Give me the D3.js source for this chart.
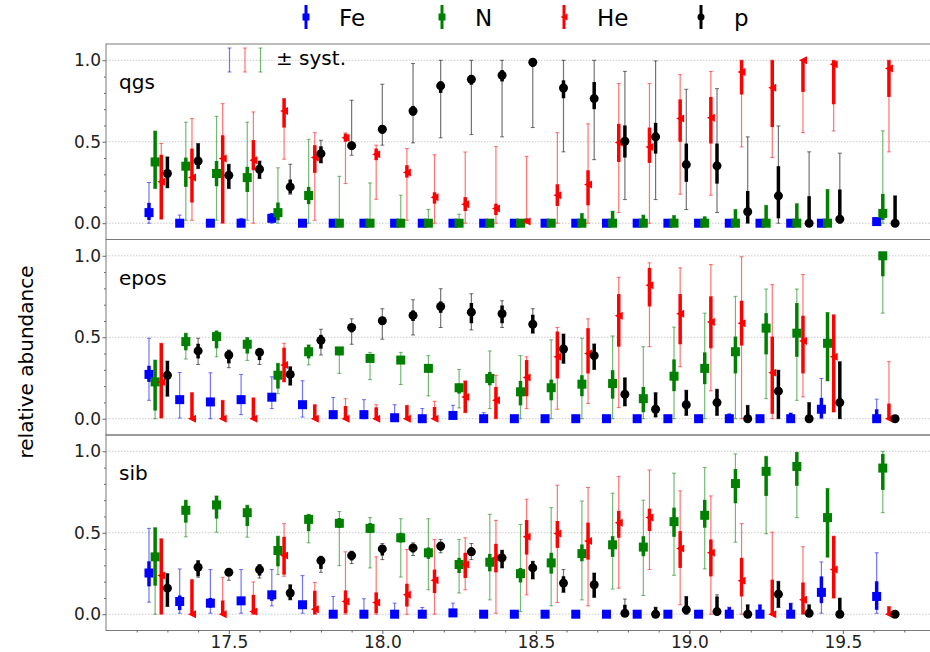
<!DOCTYPE html>
<html>
<head>
<meta charset="utf-8">
<script src="https://cdn.jsdelivr.net/npm/d3@7"></script>
<style>
  body { margin: 0; background: #fff; }
  text { font-family: "DejaVu Sans", sans-serif; }
</style>
</head>
<body>
<div id="chart"></div>
<script>
// energy bins (log10 E/eV), position of the Fe point in each bin
const lgE = [17.24, 17.34, 17.44, 17.54, 17.64, 17.74, 17.84, 17.94, 18.04, 18.13, 18.23, 18.33,
             18.43, 18.53, 18.63, 18.73, 18.83, 18.93, 19.03, 19.13, 19.23, 19.33, 19.43, 19.61];

const species = ["Fe", "N", "He", "p"];
const models = ["qgs", "epos", "sib"];

// each row: [value, stat low, stat high, syst low, syst high]
const qgsFe = [
  [0.065, 0.02, 0.125, 0, 0.25], [0, 0, 0.02, 0, 0.05], [0, 0, 0, 0, 0.01], [0, 0, 0.01, 0, 0.03],
  [0.03, 0.01, 0.06, 0, 0.06], [0, 0, 0, 0, 0], [0, 0, 0, 0, 0], [0, 0, 0, 0, 0],
  [0, 0, 0, 0, 0], [0, 0, 0, 0, 0], [0, 0, 0, 0, 0], [0, 0, 0, 0, 0],
  [0, 0, 0, 0, 0], [0, 0, 0, 0, 0], [0, 0, 0, 0, 0], [0, 0, 0, 0, 0],
  [0, 0, 0, 0, 0], [0, 0, 0, 0, 0], [0, 0, 0, 0, 0], [0, 0, 0, 0, 0],
  [0, 0, 0, 0, 0], [0, 0, 0, 0, 0], [0, 0, 0, 0, 0], [0.01, 0, 0.03, 0, 0.03]
];
const qgsN = [
  [0.376, 0.213, 0.566, 0.213, 0.566], [0.35, 0.223, 0.403, 0.018, 0.62], [0.305, 0.227, 0.382, 0.018, 0.656],
  [0.28, 0.192, 0.346, 0.018, 0.62], [0.065, 0.018, 0.127, 0, 0.34], [0.17, 0.117, 0.223, 0, 0.515],
  [0, 0, 0, 0, 0.288], [0, 0, 0, 0, 0.247], [0, 0, 0, 0, 0.172], [0, 0, 0, 0, 0.084],
  [0, 0, 0, 0, 0.055], [0, 0, 0, 0, 0], [0, 0, 0, 0, 0], [0, 0, 0, 0, 0],
  [0, 0, 0.06, 0, 0.06], [0, 0, 0.074, 0, 0.074], [0, 0, 0.05, 0, 0.05], [0, 0, 0.047, 0, 0.047],
  [0, 0, 0.04, 0, 0.04], [0, 0, 0.084, 0, 0.084], [0, 0, 0.11, 0, 0.11], [0, 0, 0.12, 0, 0.12],
  [0, 0, 0.207, 0, 0.207], [0.06, 0.02, 0.18, 0, 0.567]
];
const qgsHe = [
  [0.254, 0.025, 0.42, 0.025, 0.489], [0.28, 0.127, 0.458, 0.018, 0.642], [0.397, 0, 0.54, 0, 0.734],
  [0.387, 0.325, 0.51, 0, 0.683], [0.689, 0.587, 0.765, 0.393, 0.765], [0.403, 0.309, 0.479, 0.018, 0.556],
  [0.524, 0.5, 0.55, 0.243, 0.554], [0.423, 0.387, 0.458, 0.147, 0.479], [0.311, 0.28, 0.356, 0.018, 0.458],
  [0.16, 0.12, 0.19, 0, 0.42], [0.117, 0.075, 0.16, 0, 0.437], [0.09, 0.05, 0.12, 0, 0.47],
  [0.01, 0, 0.03, 0, 0.41], [0.172, 0.106, 0.239, 0, 0.556], [0.237, 0.11, 0.325, 0, 0.61],
  [0.495, 0.376, 0.61, 0.065, 0.857], [0.468, 0.37, 0.587, 0, 0.857], [0.642, 0.5, 0.76, 0.178, 0.912],
  [0.648, 0.489, 0.775, 0.172, 0.932], [0.928, 0.79, 1.0, 0.468, 1.0], [0.832, 0.59, 1.0, 0.403, 1.0],
  [1.0, 0.806, 1.0, 0.556, 1.0], [0.975, 0.73, 1.0, 0.566, 1.0], [0.949, 0.775, 1.0, 0.438, 1.0]
];
const qgsP = [
  [0.305, 0.217, 0.407, 0.217, 0.407], [0.382, 0.335, 0.489, 0.335, 0.489], [0.294, 0.213, 0.362, 0.213, 0.362],
  [0.331, 0.274, 0.382, 0.274, 0.382], [0.223, 0.182, 0.268, 0.178, 0.362], [0.427, 0.37, 0.472, 0.37, 0.509],
  [0.476, 0.45, 0.5, 0.417, 0.755], [0.577, 0.55, 0.6, 0.479, 0.853], [0.689, 0.66, 0.72, 0.493, 0.98],
  [0.843, 0.8, 0.87, 0.524, 1.0], [0.883, 0.85, 0.91, 0.544, 1.0], [0.908, 0.87, 0.94, 0.53, 1.0],
  [0.988, 0.96, 1.0, 0.587, 1.0], [0.83, 0.767, 0.877, 0.438, 1.0], [0.765, 0.7, 0.867, 0.39, 1.0],
  [0.503, 0.403, 0.6, 0.145, 0.932], [0.53, 0.427, 0.616, 0.145, 0.996], [0.36, 0.254, 0.489, 0.084, 0.822],
  [0.352, 0.243, 0.489, 0.065, 0.826], [0.07, 0, 0.198, 0, 0.53], [0.168, 0.03, 0.35, 0, 0.597],
  [0, 0, 0.166, 0, 0.438], [0.025, 0, 0.207, 0, 0.43], [0, 0, 0.168, 0, 0.168]
];

const eposFe = [
  [0.272, 0.226, 0.325, 0.113, 0.494], [0.117, 0.1, 0.135, 0.004, 0.284], [0.103, 0.085, 0.12, 0, 0.282],
  [0.117, 0.1, 0.135, 0.025, 0.272], [0.132, 0.115, 0.15, 0.062, 0.257], [0.086, 0.07, 0.1, 0.01, 0.233],
  [0.025, 0.015, 0.035, 0, 0.13], [0.025, 0.015, 0.035, 0, 0.117], [0.006, 0, 0.015, 0, 0.086],
  [0, 0, 0, 0, 0.062], [0.02, 0.01, 0.03, 0, 0.082], [0, 0, 0, 0, 0.037],
  [0, 0, 0, 0, 0], [0, 0, 0, 0, 0], [0, 0, 0, 0, 0], [0, 0, 0, 0, 0],
  [0, 0, 0, 0, 0], [0, 0, 0, 0, 0], [0, 0, 0, 0, 0], [0, 0, 0.03, 0, 0.03],
  [0, 0, 0, 0, 0], [0, 0, 0.035, 0, 0.035], [0.058, 0.004, 0.128, 0, 0.247], [0, 0, 0.058, 0, 0.12]
];
const eposN = [
  [0.226, 0.05, 0.36, 0, 0.36], [0.473, 0.42, 0.525, 0.366, 0.525], [0.504, 0.432, 0.539, 0.38, 0.539],
  [0.457, 0.4, 0.498, 0.358, 0.498], [0.267, 0.185, 0.34, 0.154, 0.34], [0.411, 0.37, 0.453, 0.33, 0.453],
  [0.416, 0.39, 0.416, 0.278, 0.416], [0.37, 0.35, 0.39, 0.24, 0.407], [0.36, 0.34, 0.38, 0.21, 0.407],
  [0.309, 0.29, 0.33, 0.14, 0.387], [0.19, 0.154, 0.216, 0.066, 0.302], [0.247, 0.205, 0.287, 0.062, 0.416],
  [0.165, 0.082, 0.232, 0, 0.387], [0.19, 0.113, 0.24, 0, 0.484], [0.212, 0.138, 0.267, 0, 0.494],
  [0.216, 0.123, 0.298, 0, 0.508], [0.123, 0.04, 0.195, 0, 0.442], [0.261, 0.169, 0.364, 0, 0.562],
  [0.309, 0.212, 0.407, 0, 0.648], [0.411, 0.278, 0.504, 0, 0.751], [0.556, 0.395, 0.648, 0.123, 0.796],
  [0.525, 0.38, 0.71, 0.113, 0.796], [0.463, 0.232, 0.652, 0.232, 0.652], [1.0, 0.874, 1.0, 0.648, 1.0]
];
const eposHe = [
  [0.226, 0.004, 0.463, 0.004, 0.463], [0, 0, 0.16, 0, 0.16], [0, 0, 0.113, 0, 0.113],
  [0, 0, 0.128, 0, 0.128], [0.329, 0.226, 0.436, 0.226, 0.463], [0, 0, 0.086, 0, 0.086],
  [0, 0, 0.078, 0, 0.123], [0, 0, 0.07, 0, 0.086], [0, 0, 0.082, 0, 0.082],
  [0, 0, 0.072, 0, 0.107], [0.134, 0.037, 0.232, 0.037, 0.232], [0.113, 0, 0.195, 0, 0.267],
  [0.253, 0.138, 0.36, 0.062, 0.38], [0.38, 0.247, 0.535, 0.058, 0.56], [0.401, 0.278, 0.556, 0.093, 0.613],
  [0.632, 0.442, 0.765, 0.068, 0.868], [0.819, 0.689, 0.926, 0.442, 0.957], [0.644, 0.457, 0.765, 0.319, 0.926],
  [0.593, 0.432, 0.751, 0.171, 0.946], [0.586, 0.449, 0.724, 0, 0.994], [0.282, 0.03, 0.504, 0, 0.823],
  [0.477, 0.278, 0.632, 0.134, 0.885], [0.38, 0.041, 0.638, 0.041, 0.638], [0, 0, 0.093, 0, 0.35]
];
const eposP = [
  [0.267, 0.138, 0.354, 0.138, 0.354], [0.416, 0.37, 0.46, 0.333, 0.494], [0.391, 0.34, 0.42, 0.313, 0.422],
  [0.407, 0.36, 0.43, 0.333, 0.432], [0.272, 0.206, 0.319, 0.206, 0.319], [0.481, 0.43, 0.515, 0.391, 0.549],
  [0.56, 0.53, 0.58, 0.457, 0.613], [0.601, 0.575, 0.625, 0.488, 0.675], [0.634, 0.6, 0.665, 0.514, 0.73],
  [0.689, 0.65, 0.72, 0.56, 0.798], [0.654, 0.586, 0.71, 0.545, 0.767], [0.644, 0.586, 0.695, 0.56, 0.724],
  [0.58, 0.525, 0.638, 0.525, 0.675], [0.428, 0.34, 0.52, 0.34, 0.52], [0.387, 0.302, 0.459, 0.302, 0.459],
  [0.15, 0.078, 0.251, 0.078, 0.251], [0.058, 0.01, 0.16, 0.01, 0.16], [0.086, 0.02, 0.175, 0.02, 0.175],
  [0.099, 0.02, 0.181, 0.02, 0.181], [0, 0, 0.082, 0, 0.082], [0.169, 0, 0.298, 0, 0.298],
  [0, 0, 0.099, 0, 0.099], [0.099, 0, 0.35, 0, 0.35], [0, 0, 0, 0, 0]
];

const sibFe = [
  [0.253, 0.171, 0.325, 0.074, 0.527], [0.078, 0.025, 0.115, 0.006, 0.278], [0.068, 0.04, 0.1, 0.006, 0.274],
  [0.082, 0.06, 0.1, 0.006, 0.274], [0.119, 0.082, 0.144, 0.051, 0.274], [0.058, 0.04, 0.075, 0.006, 0.237],
  [0, 0, 0, 0, 0.109], [0, 0, 0, 0, 0.095], [0, 0, 0, 0, 0.068], [0, 0, 0, 0, 0.041],
  [0.008, 0, 0.02, 0, 0.068], [0, 0, 0, 0, 0], [0, 0, 0, 0, 0], [0, 0, 0, 0, 0],
  [0, 0, 0, 0, 0], [0, 0, 0, 0, 0], [0, 0, 0, 0, 0], [0, 0, 0, 0, 0],
  [0, 0, 0, 0, 0], [0, 0, 0.043, 0, 0.043], [0, 0, 0.058, 0, 0.058], [0, 0, 0.068, 0, 0.068],
  [0.134, 0.068, 0.232, 0.006, 0.321], [0.109, 0.027, 0.202, 0.006, 0.377]
];
const sibN = [
  [0.352, 0.175, 0.531, 0, 0.531], [0.638, 0.562, 0.7, 0.475, 0.7], [0.671, 0.587, 0.726, 0.504, 0.726],
  [0.623, 0.541, 0.669, 0.473, 0.669], [0.391, 0.294, 0.479, 0.243, 0.479], [0.582, 0.51, 0.613, 0.438, 0.613],
  [0.558, 0.53, 0.59, 0.298, 0.63], [0.527, 0.5, 0.56, 0.284, 0.593], [0.469, 0.44, 0.5, 0.228, 0.586],
  [0.377, 0.34, 0.41, 0.15, 0.586], [0.305, 0.253, 0.346, 0.13, 0.459], [0.319, 0.263, 0.37, 0.088, 0.613],
  [0.249, 0.195, 0.284, 0.016, 0.551], [0.315, 0.249, 0.377, 0.051, 0.654], [0.372, 0.325, 0.428, 0.088, 0.695],
  [0.426, 0.352, 0.479, 0.154, 0.743], [0.412, 0.356, 0.479, 0.115, 0.7], [0.568, 0.475, 0.654, 0.239, 0.866],
  [0.607, 0.531, 0.702, 0.278, 0.901], [0.802, 0.681, 0.891, 0.442, 0.984], [0.877, 0.726, 0.969, 0.494, 0.969],
  [0.907, 0.788, 0.994, 0.593, 0.994], [0.593, 0.35, 0.772, 0.35, 0.772], [0.897, 0.763, 0.984, 0.623, 1.0]
];
const sibHe = [
  [0.237, 0, 0.463, 0, 0.463], [0, 0, 0.212, 0, 0.212], [0, 0, 0.084, 0, 0.226],
  [0.016, 0, 0.119, 0, 0.198], [0.36, 0.243, 0.475, 0.233, 0.556], [0.031, 0, 0.144, 0, 0.195],
  [0.078, 0.006, 0.146, 0, 0.383], [0.072, 0.006, 0.134, 0, 0.352], [0.119, 0.047, 0.187, 0, 0.397],
  [0.208, 0.13, 0.274, 0, 0.459], [0.305, 0.222, 0.377, 0.15, 0.469], [0.346, 0.257, 0.432, 0.006, 0.576],
  [0.475, 0.366, 0.578, 0.119, 0.706], [0.496, 0.407, 0.572, 0.072, 0.792], [0.449, 0.335, 0.562, 0.051, 0.778],
  [0.562, 0.469, 0.634, 0.16, 0.846], [0.593, 0.51, 0.648, 0.274, 0.885], [0.403, 0.284, 0.51, 0.058, 0.757],
  [0.377, 0.232, 0.459, 0, 0.726], [0.206, 0.109, 0.346, 0, 0.556], [0, 0, 0.212, 0, 0.504],
  [0.088, 0, 0.195, 0, 0.414], [0.274, 0.099, 0.479, 0.099, 0.479], [0, 0, 0.047, 0, 0.047]
];
const sibP = [
  [0.16, 0.047, 0.249, 0.047, 0.249], [0.288, 0.233, 0.329, 0.227, 0.329], [0.257, 0.235, 0.27, 0.208, 0.278],
  [0.274, 0.237, 0.305, 0.222, 0.305], [0.13, 0.088, 0.181, 0.088, 0.181], [0.329, 0.278, 0.346, 0.257, 0.356],
  [0.36, 0.33, 0.38, 0.311, 0.387], [0.401, 0.36, 0.42, 0.335, 0.434], [0.407, 0.38, 0.43, 0.36, 0.438],
  [0.418, 0.39, 0.44, 0.377, 0.459], [0.383, 0.36, 0.41, 0.335, 0.434], [0.346, 0.284, 0.393, 0.284, 0.393],
  [0.284, 0.216, 0.325, 0.216, 0.325], [0.191, 0.134, 0.233, 0.134, 0.274], [0.181, 0.103, 0.253, 0.103, 0.253],
  [0.006, 0, 0.058, 0, 0.093], [0, 0, 0.043, 0, 0.043], [0.027, 0, 0.109, 0, 0.109],
  [0.016, 0, 0.109, 0, 0.119], [0, 0, 0.058, 0, 0.058], [0.123, 0.041, 0.202, 0.041, 0.202],
  [0.006, 0, 0.058, 0, 0.058], [0, 0, 0.099, 0, 0.099], [0, 0, 0, 0, 0]
];

const xTicks = [17.5, 18.0, 18.5, 19.0, 19.5];
const yTicks = [0, 0.5, 1.0];

const table = {
  qgs: { Fe: qgsFe, N: qgsN, He: qgsHe, p: qgsP },
  epos: { Fe: eposFe, N: eposN, He: eposHe, p: eposP },
  sib: { Fe: sibFe, N: sibN, He: sibHe, p: sibP }
};

// style
const color = { Fe: "#0000ff", N: "#008000", He: "#ff0000", p: "#000000" };
const shift = { Fe: 0, N: 0.02, He: 0.04, p: 0.06 };
const W = 930, H = 652;
const panelTop = [44, 239.5, 435], panelH = 195.5;
const left = 106, right = 935;

const svg = d3.select("#chart").append("svg")
  .attr("width", W).attr("height", H)
  .style("display", "block");

const x = d3.scaleLinear().domain([17.1, 19.8]).range([left, right]);

function marker(g, s, cx, cy, size) {
  if (s === "Fe" || s === "N") {
    g.append("rect").attr("x", cx - size / 2).attr("y", cy - size / 2)
      .attr("width", size).attr("height", size).attr("fill", color[s]);
  } else if (s === "p") {
    g.append("circle").attr("cx", cx).attr("cy", cy).attr("r", size / 2).attr("fill", color[s]);
  } else {
    const h = size * 0.5;
    g.append("path")
      .attr("d", `M${cx - h},${cy} L${cx + h},${cy - h} L${cx + h},${cy + h} Z`)
      .attr("fill", color[s]);
  }
}

models.forEach(function (m, k) {
  const top = panelTop[k];
  const y = d3.scaleLinear().domain([-0.1, 1.1]).range([top + panelH, top]);
  const g = svg.append("g");

  // dotted grid at major ticks
  g.selectAll(".grid")
    .data(yTicks)
    .enter().append("line")
    .attr("x1", left).attr("x2", W)
    .attr("y1", d => y(d)).attr("y2", d => y(d))
    .attr("stroke", "#bdbdbd").attr("stroke-width", 0.8)
    .attr("stroke-dasharray", "1.5,1.5");

  // y axis, major + minor ticks
  const yAxis = g.append("g")
    .attr("transform", "translate(" + left + ",0)")
    .call(d3.axisLeft(y).tickValues(yTicks).tickFormat(d3.format(".1f")).tickSize(3.5).tickPadding(1.5));
  yAxis.select(".domain").remove();
  yAxis.selectAll("line").attr("stroke", "#666");
  yAxis.selectAll("text").style("font-size", "17px").attr("fill", "#222")
    .style("font-family", "DejaVu Sans, sans-serif");

  const yMinor = g.append("g")
    .attr("transform", "translate(" + left + ",0)")
    .call(d3.axisLeft(y).tickValues([0.1, 0.2, 0.3, 0.4, 0.6, 0.7, 0.8, 0.9]).tickFormat("").tickSize(2));
  yMinor.select(".domain").remove();
  yMinor.selectAll("line").attr("stroke", "#666");

  // panel label
  g.append("text")
    .attr("x", 119).attr("y", y(1.0) + 29)
    .style("font-size", "20px")
    .text(m);

  // points: syst bars, stat bars, markers
  species.forEach(function (s) {
    const rows = table[m][s];
    const sg = g.append("g");
    rows.forEach(function (r, i) {
      const cx = x(lgE[i] + shift[s]);
      const [v, lo, hi, slo, shi] = r;
      if (shi > slo) {
        sg.append("line").attr("x1", cx).attr("x2", cx)
          .attr("y1", y(slo)).attr("y2", y(shi))
          .attr("stroke", color[s]).attr("stroke-opacity", 0.55).attr("stroke-width", 1.2);
        [slo, shi].forEach(function (c) {
          sg.append("line").attr("x1", cx - 2).attr("x2", cx + 2)
            .attr("y1", y(c)).attr("y2", y(c))
            .attr("stroke", color[s]).attr("stroke-opacity", 0.55).attr("stroke-width", 1);
        });
      }
      if (hi > lo) {
        sg.append("line").attr("x1", cx).attr("x2", cx)
          .attr("y1", y(lo)).attr("y2", y(hi))
          .attr("stroke", color[s]).attr("stroke-width", 3.5);
      }
      marker(sg, s, cx, y(v), s === "He" ? 8 : 9);
    });
  });

  // frame
  g.append("rect")
    .attr("x", left).attr("y", top)
    .attr("width", right - left).attr("height", panelH)
    .attr("fill", "none").attr("stroke", "#7a7a7a").attr("stroke-width", 1);

  if (k === 2) {
    const xAxis = g.append("g")
      .attr("transform", "translate(0," + (top + panelH) + ")")
      .call(d3.axisBottom(x).tickValues(xTicks).tickFormat(d3.format(".1f")).tickSize(3.5).tickPadding(1.5));
    xAxis.select(".domain").remove();
    xAxis.selectAll("line").attr("stroke", "#666");
    xAxis.selectAll("text").style("font-size", "17px").attr("fill", "#222")
      .style("font-family", "DejaVu Sans, sans-serif");

    const minorX = [17.2, 17.3, 17.4, 17.6, 17.7, 17.8, 17.9, 18.1, 18.2, 18.3, 18.4,
                    18.6, 18.7, 18.8, 18.9, 19.1, 19.2, 19.3, 19.4, 19.6, 19.7];
    const xMinor = g.append("g")
      .attr("transform", "translate(0," + (top + panelH) + ")")
      .call(d3.axisBottom(x).tickValues(minorX).tickFormat("").tickSize(2));
    xMinor.select(".domain").remove();
    xMinor.selectAll("line").attr("stroke", "#666");
  }

  // systematic legend in first panel
  if (k === 0) {
    const sysCols = [color.Fe, color.He, color.N];
    sysCols.forEach(function (c, j) {
      const lx = 229.5 + j * 15.5;
      g.append("line").attr("x1", lx).attr("x2", lx).attr("y1", 48).attr("y2", 72)
        .attr("stroke", c).attr("stroke-opacity", 0.55).attr("stroke-width", 1.2);
      [48, 72].forEach(function (cy) {
        g.append("line").attr("x1", lx - 2).attr("x2", lx + 2).attr("y1", cy).attr("y2", cy)
          .attr("stroke", c).attr("stroke-opacity", 0.55).attr("stroke-width", 1);
      });
    });
    g.append("text").attr("x", 276).attr("y", 65)
      .style("font-size", "20px").text("\u00b1 syst.");
  }
});

// top legend
const legX = [306, 442, 564, 701];
const leg = svg.append("g");
species.forEach(function (s, j) {
  const cx = legX[j];
  leg.append("line").attr("x1", cx).attr("x2", cx).attr("y1", 5).attr("y2", 29)
    .attr("stroke", color[s]).attr("stroke-width", 3);
  marker(leg, s, cx, 17, 7);
  leg.append("text").attr("x", cx + 33).attr("y", 26)
    .style("font-size", "23px").text(s);
});

// y label
svg.append("text")
  .attr("transform", "translate(33,362) rotate(-90)")
  .attr("text-anchor", "middle")
  .style("font-size", "20px")
  .text("relative abundance");
</script>
</body>
</html>
